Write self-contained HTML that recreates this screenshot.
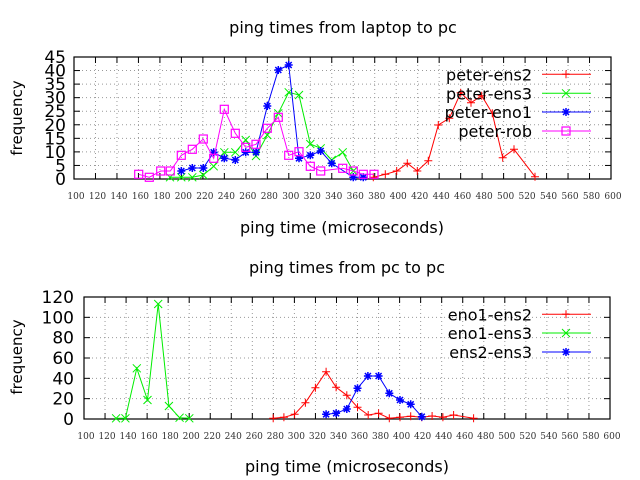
<!DOCTYPE html>
<html><head><meta charset="utf-8"><style>
html,body{margin:0;padding:0;background:#fff}
svg{display:block}
text{font-family:"DejaVu Sans","Liberation Sans",sans-serif;fill:#000}
.tk{font-family:"DejaVu Serif","Liberation Serif",serif;font-size:9px;fill:#333}
</style></head><body>
<svg id="s" width="640" height="480" xmlns="http://www.w3.org/2000/svg">
<rect width="640" height="480" fill="#fff"/>
<text x="343" y="33" font-size="16" text-anchor="middle">ping times from laptop to pc</text>
<text x="347" y="273" font-size="16" text-anchor="middle">ping times from pc to pc</text>
<text x="342" y="233" font-size="16" text-anchor="middle">ping time (microseconds)</text>
<text x="347" y="472" font-size="16" text-anchor="middle">ping time (microseconds)</text>
<text transform="translate(22,118) rotate(-90)" font-size="15" text-anchor="middle">frequency</text>
<text transform="translate(22,357) rotate(-90)" font-size="15" text-anchor="middle">frequency</text>
<g id="g"></g>
</svg>
<script>
var NS="http://www.w3.org/2000/svg",g=document.getElementById('g');
function el(t,a,txt){var e=document.createElementNS(NS,t);for(var k in a)e.setAttribute(k,a[k]);if(txt!=null)e.textContent=txt;g.appendChild(e);return e;}
function plot(L,R,T,B,ymax,ystep,ylabX){
  var n=25;
  for(var i=0;i<=n;i++){var x=L+(R-L)*i/n;
    if(i>0&&i<n){el('line',{x1:x,y1:T,x2:x,y2:B,stroke:'#999','stroke-dasharray':'1,3','stroke-width':1});}
    el('line',{x1:x,y1:B,x2:x,y2:B-6,stroke:'#000'});el('line',{x1:x,y1:T,x2:x,y2:T+6,stroke:'#000'});
    el('text',{x:x+2,y:B+20,'class':'tk','text-anchor':'middle'},100+20*i);}
  for(var v=0;v<=ymax;v+=ystep){var y=B-(B-T)*v/ymax;
    if(v>0&&v<ymax)el('line',{x1:L,y1:y,x2:R,y2:y,stroke:'#999','stroke-dasharray':'1,3','stroke-width':1});
    el('line',{x1:L,y1:y,x2:L+6,y2:y,stroke:'#000'});el('line',{x1:R,y1:y,x2:R-6,y2:y,stroke:'#000'});
    el('text',{x:ylabX,y:y+6,'font-size':17,'text-anchor':'end'},v);}
  el('rect',{x:L,y:T,width:R-L,height:B-T,fill:'none',stroke:'#000','stroke-width':1.2});
}
function mk(x,y,t,c){
  if(t==0){el('path',{d:'M'+(x-4)+' '+y+'h8M'+x+' '+(y-4)+'v8',stroke:c,fill:'none'});}
  else if(t==1){el('path',{d:'M'+(x-4)+' '+(y-4)+'l8 8M'+(x-4)+' '+(y+4)+'l8 -8',stroke:c,fill:'none'});}
  else if(t==2){el('path',{d:'M'+(x-4)+' '+y+'h8M'+x+' '+(y-4)+'v8M'+(x-3)+' '+(y-3)+'l6 6M'+(x-3)+' '+(y+3)+'l6 -6',stroke:c,fill:'none','stroke-width':1.5});}
  else {el('rect',{x:x-4,y:y-4,width:8,height:8,stroke:c,fill:'none','stroke-width':1.2});}
}
function series(p,t,c){var d='';for(var i=0;i<p.length;i+=2)d+=(i?'L':'M')+p[i]+' '+p[i+1];
  el('path',{d:d,stroke:c,fill:'none','stroke-width':1});for(var i=0;i<p.length;i+=2)mk(p[i],p[i+1],t,c);}
function leg(y,name,t,c){el('text',{x:532,y:y+6,'font-size':16,'text-anchor':'end'},name);
  el('line',{x1:542,y1:y,x2:591,y2:y,stroke:c});mk(566,y,t,c);}

plot(74,611,57,179,45,5,66);
plot(84,610,297,419,120,20,74);

var R='#ff0000',G='#00ee00',Bl='#0000ff',M='#ff00ff';
series([373.3,177.3,385.3,174.3,396.7,171,407.3,163.3,417.3,171,428.3,160.7,438.3,125,449.3,118.3,460.7,92.7,471,102.7,481.7,95.7,492.3,113.3,502.7,157.7,514,149.3,535,176.7],0,R);
series([170,177.3,181.3,177.3,192.3,177.3,203.3,175,213.7,166.3,224.3,152.3,235.3,152.3,245.7,140,256,156,267.3,135,278.3,113.3,288.7,92.3,299,95,310.3,144,320.7,148.3,331.7,160,342.7,152.3,353.3,171],1,G);
series([181.3,171,192.3,168,203.3,168,213.7,152.3,224.3,158.3,235.3,160,245.7,152.3,256,152.3,267.3,106,278.3,70,288.7,65,299,158.3,310.3,155.3,320.7,151,331.7,163.3,353.3,177.3,363.3,177.3],2,Bl);
series([138.7,174.3,149.3,177.3,160.7,171,170.3,171,181.3,155.3,192.3,149.3,203.3,139,213.7,158.3,224.3,109.3,235.3,133.3,245.7,147.3,256,144.3,267.3,128.3,278.3,117.3,288.7,155.3,299,151.7,310.3,166.3,320.7,171,342.7,168.3,353.3,171,363.3,174.3,374,174.3],3,M);
leg(74.3,'peter-ens2',0,R);leg(93.3,'peter-ens3',1,G);leg(112,'peter-eno1',2,Bl);leg(131,'peter-rob',3,M);

series([273.2,418.3,283.9,417.3,294.6,414.3,305.4,402.7,315.4,387.7,326.1,371.7,336.1,387.3,346.8,395.3,357.5,407.3,368.2,415,378.6,413.3,389.3,418.3,400,417.3,410.7,416.3,421.8,417.3,432.1,416,442.9,417.3,453.6,415,473.6,418.3],0,R);
series([116.1,418.3,125.4,418.3,136.8,368.3,147.5,400,158.2,304,168.9,406,179.6,417.7,189.3,418.3],1,G);
series([326.1,414.3,336.1,413.3,346.8,409,357.5,388.3,367.9,376,378.6,376,389.3,393.3,400,400,410.7,404.3,421.8,416.7],2,Bl);
leg(314.3,'eno1-ens2',0,R);leg(333,'eno1-ens3',1,G);leg(352,'ens2-ens3',2,Bl);
</script>
</body></html>
